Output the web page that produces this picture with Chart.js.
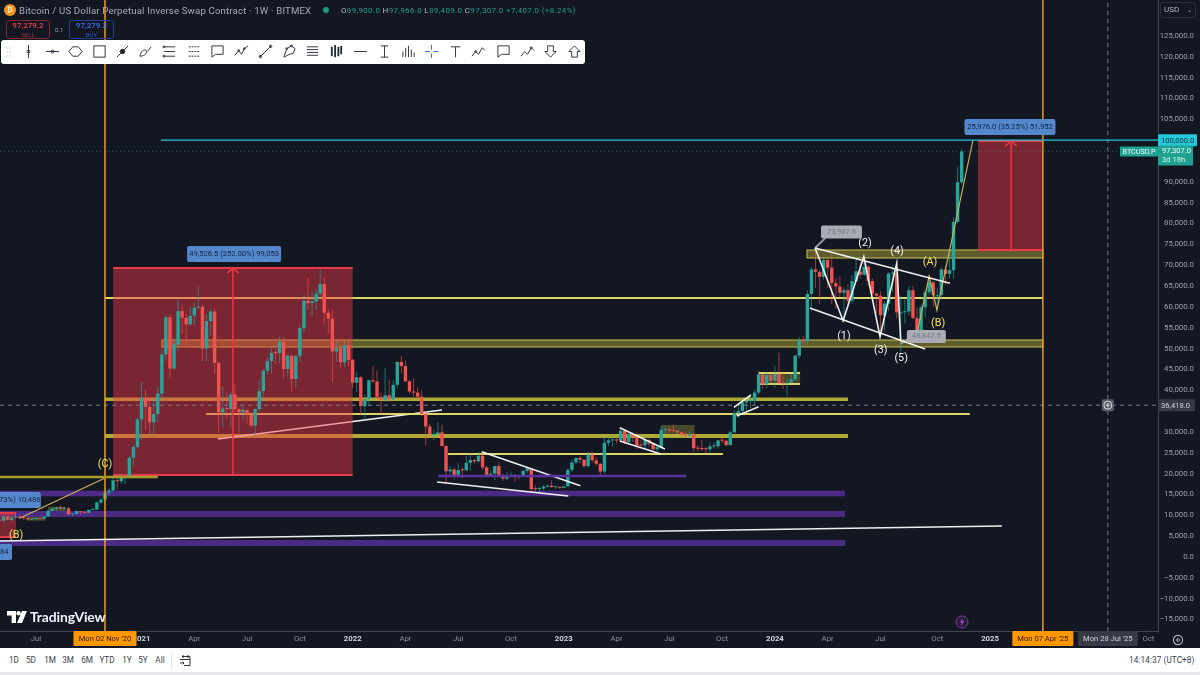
<!DOCTYPE html>
<html><head><meta charset="utf-8">
<script src="https://cdn.jsdelivr.net/npm/chart.js@4"></script>
<style>
html,body{margin:0;padding:0;width:1200px;height:675px;overflow:hidden;background:#131722;font-family:Roboto,sans-serif}
canvas{position:absolute;left:0;top:0}
.abs{position:absolute;white-space:nowrap;z-index:3}
</style></head><body>
<canvas id="c" width="1200" height="675"></canvas>
<div class="abs" style="left:4px;top:4px;width:12px;height:12px;border-radius:50%;background:#f7931a;color:#fff;font-size:8px;line-height:12px;text-align:center">₿</div>
<div class="abs" style="left:19px;top:4px;font-size:9.6px;line-height:13px;color:#a8abb5;letter-spacing:.17px">Bitcoin / US Dollar Perpetual Inverse Swap Contract · 1W · BITMEX</div>
<div class="abs" style="left:323px;top:7px;width:6px;height:6px;border-radius:50%;background:#1b9a86"></div>
<div class="abs" style="left:341px;top:5px;font-size:8px;line-height:12px;color:#1f9c8e;letter-spacing:.34px"><span style="color:#b2b5be">O</span>89,900.0 <span style="color:#b2b5be">H</span>97,966.0 <span style="color:#b2b5be">L</span>89,409.0 <span style="color:#b2b5be">C</span>97,307.0 +7,407.0 (+8.24%)</div>
<div class="abs" style="left:6px;top:20px;width:42px;height:17px;border:1px solid #7d2a35;border-radius:3px;text-align:center;color:#ef3f50;font-size:8px;line-height:9px;font-weight:500">97,279.2<br><span style="font-size:6px;color:#8f2c38">SELL</span></div>
<div class="abs" style="left:55px;top:26px;font-size:6px;color:#9a9da6">0.1</div>
<div class="abs" style="left:69px;top:20px;width:43px;height:17px;border:1px solid #23408f;border-radius:3px;text-align:center;color:#3f6ff0;font-size:8px;line-height:9px;font-weight:500">97,279.3<br><span style="font-size:6px;color:#2c4ea5">BUY</span></div>
<div id="toolbar" class="abs" style="left:1px;top:39.5px;width:584px;height:24px;background:#fff;border-radius:3px"></div>
<div class="abs" style="left:1160px;top:2px;width:36px;height:16px;border:1px solid #2a2e39;border-radius:3px;box-sizing:border-box;color:#b2b5be;font-size:8px;line-height:14px;padding-left:3px">USD<span style="position:absolute;right:3px;top:0;font-size:6px">⌄</span></div>
<svg class="abs" style="left:7px;top:610px" width="20" height="14" viewBox="0 0 20 14" fill="#fff"><path d="M0 1h9v12H4.600V5.400H0z"/><circle cx="11.600" cy="3.200" r="2.200"/><path d="M15 1h5l-5 12h-5z"/></svg>
<div class="abs" style="left:30px;top:608.5px;color:#f0f3fa;font-size:13.9px;line-height:16px;font-weight:700;font-family:Lato,sans-serif;letter-spacing:-.1px">TradingView</div>
<svg class="abs" style="left:955px;top:615px" width="14" height="14" viewBox="0 0 14 14"><circle cx="7" cy="7" r="6" fill="#2a1b3a" stroke="#7a3d9a" stroke-width="1"/><path d="M8 3 5 7.600h2L6 11l3.200-4.800H7.200z" fill="#a85ac8"/></svg>
<svg class="abs" style="left:1171px;top:633px" width="14" height="14" viewBox="0 0 14 14"><circle cx="7" cy="7" r="4.600" fill="none" stroke="#b2b5be" stroke-width="1.100"/><circle cx="7" cy="7" r="1.400" fill="none" stroke="#b2b5be"/></svg>
<div class="abs" style="left:0;top:648px;width:1200px;height:27px;background:#fff"></div>
<div class="abs" style="left:0;top:672px;width:1200px;height:3px;background:#e6e8ee"></div>
<div id="ranges" class="abs" style="left:0;top:654px;height:12px;width:170px;font-size:8.2px;line-height:12px;color:#3b3f4a"></div>
<div class="abs" style="left:171px;top:653px;width:1px;height:15px;background:#e0e3eb"></div>
<svg class="abs" style="left:179px;top:654px" width="13" height="13" viewBox="0 0 13 13" fill="none" stroke="#333" stroke-width="1"><path d="M3 2.500h8v9H5M1 5.500h10M4 1v3M9 1v3M1 9h4M3.500 7.500 5 9l-1.500 1.500"/></svg>
<div class="abs" style="left:1129px;top:654px;font-size:8.2px;line-height:12px;color:#3b3f4a;letter-spacing:.1px">14:14:37 (UTC+8)</div>

<script>
// ---- chart data: weekly candles, week 0 = Mon 02 Nov 2020, first candle = week -26 ----
const firstWeek = -26;
const opens = [
8900,8720,9680,8900,9450,9670,9320,9300,9000,9070,9300,9160,9700,11050,11560,11870,11650,11700,10250,10320,11000,10720,10620,11300,11360,13050,
13750,15480,15970,18400,18180,19000,19150,23800,26400,33000,38200,36000,32300,34300,39200,48600,57500,45200,51000,59000,57400,55800,57900,59800,60000,50000,
56600,58900,46600,34700,35600,35500,39000,35500,34700,35300,34200,31500,35500,39800,44700,47000,49000,48900,51700,45100,48300,42700,48200,54900,61500,60900,
61300,63200,65500,58600,57200,49300,50100,46700,50800,47300,41800,43100,36200,37900,42400,42100,38400,37700,38800,37800,41300,46800,45800,42150,39700,39450,
38450,34300,31300,29450,29450,29900,26600,20550,21000,19300,20850,20800,22600,23300,22950,24300,21500,19550,19990,21800,19400,18800,19300,19400,19250,19570,
20620,21300,16300,16280,16420,16880,17100,16750,16840,16600,16950,20900,22700,23750,23350,21800,24600,23200,22350,20500,27400,27970,28170,27950,30300,27590,
29500,28900,26780,26750,28070,27200,25850,26340,30500,30600,30300,30250,29900,29300,29050,29400,26100,26000,25900,25850,26550,26570,27970,27900,26850,29900,
34500,35000,37100,37400,37450,39450,43800,41400,43700,42300,43900,41700,41600,41800,42600,48300,52100,51700,63100,69000,68400,67200,71300,69400,65700,64900,
63400,64000,61500,66200,68500,67700,69600,66200,63200,62700,58000,60800,68000,68100,58700,58700,58900,64000,57300,54000,59900,63500,65900,62800,62800,69000,67900,68800,80400,89900];
const highs = [
10050,9950,9850,9740,10400,9990,9620,9780,9370,9470,9350,9750,11450,12050,12100,12450,11800,12050,10580,11180,11000,10950,11450,11720,13350,14100,
15980,16490,18970,19470,19900,19420,24300,26900,33400,41900,40100,37800,38000,40900,49700,58300,58300,52600,61700,60500,58400,60000,61200,64900,60500,58400,
59500,59600,46700,40800,39500,39500,41300,35700,36600,35400,34700,35500,42600,45000,48100,50500,49900,52900,52800,48800,48300,48500,55700,62900,67000,63700,
64200,69000,67100,59400,59200,51900,50600,51900,52000,47500,44500,43500,38900,42500,45800,44700,39700,45400,42600,42400,46900,48200,47200,42400,42900,40700,
40000,35000,32000,30500,32400,31700,26900,21900,21500,22500,21600,24200,24700,23500,25200,25200,21900,20800,21800,22800,20000,20400,20500,19900,19700,21000,
21500,21500,17200,16800,17300,17400,18400,17000,16900,17000,21300,23400,23800,24200,23400,25300,25300,23900,22600,28800,28900,29200,28800,31000,30500,30000,
29900,29800,28200,28400,28400,27400,26800,31400,31400,31400,31800,30400,29990,30000,30200,29600,26800,28100,26400,27500,27500,28100,28600,28000,30200,35200,
36000,38000,37900,38400,40200,44700,43900,44300,43800,45900,49000,43600,42800,43900,48500,52800,53000,64000,69500,73700,68900,71500,71300,72800,66900,67300,
64800,65500,67700,71900,70600,71900,70000,66900,63300,63800,61400,68300,70000,70000,62700,61800,65000,65000,59800,60600,64100,66500,66100,64500,69500,70000,73600,81500,93500,97966];
const lows = [
8200,8200,8800,8640,9250,9100,8900,8830,8900,9050,9000,9030,9650,10950,11150,11350,11100,9900,9850,10250,10150,10380,10530,11200,11350,12750,
13200,14850,15800,16200,17600,17600,19000,21900,26000,28000,30400,28900,29300,32300,37400,47000,43000,44900,49300,53300,50400,55500,55500,59500,47000,47000,
53000,43900,30000,31100,33400,31000,34800,28800,32700,32100,31000,29300,34900,37300,43800,43900,46300,46500,42800,43300,39600,40750,46900,53900,59500,57600,
59400,62200,55700,53500,41900,46800,45500,45600,45700,40600,39600,34000,32900,36300,41700,38000,34300,37200,37200,37600,40500,44200,41900,39200,38500,37600,
33700,26700,28700,28000,29300,26600,17600,19600,18600,19000,18900,20700,20700,22400,22700,20800,19500,19500,18500,19300,18200,18500,19100,18200,18700,19200,
20100,15600,15800,15450,16000,16700,16600,16300,16300,16500,16900,20400,22300,22500,21400,21400,22700,21900,19500,20000,26600,26500,27200,27900,27100,26900,
27600,25900,26500,25900,26500,25400,24800,26250,29500,29700,29950,29500,28900,28650,28700,25200,25400,25400,24900,24900,26000,26000,27200,26550,26800,29800,
33400,34500,34700,35600,36700,39000,40200,40500,41400,40700,41500,40300,38500,41700,42300,47700,50500,50900,59000,64600,60700,66500,64500,60700,59600,62400,
56500,60100,60800,66200,66700,67500,65100,63000,58500,53500,54300,59000,63500,57200,49000,56000,57800,57100,52600,52500,57500,62700,60000,58900,62000,65300,66800,66800,80000,89409];
const closes = [
8720,9680,8900,9450,9670,9320,9300,9000,9070,9300,9160,9700,11050,11560,11870,11650,11700,10250,10320,11000,10720,10620,11300,11360,13050,13750,
15480,15970,18400,18180,19000,19150,23800,26400,33000,38200,36000,32300,34300,39200,48600,57500,45200,51000,59000,57400,55800,57900,59800,60000,50000,56600,
58900,46600,34700,35600,35500,39000,35500,34700,35300,34200,31500,35500,39800,44700,47000,49000,48900,51700,45100,48300,42700,48200,54900,61500,60900,61300,
63200,65500,58600,57200,49300,50100,46700,50800,47300,41800,43100,36200,37900,42400,42100,38400,37700,38800,37800,41300,46800,45800,42150,39700,39450,38450,
34300,31300,29450,29450,29900,26600,20550,21000,19300,20850,20800,22600,23300,22950,24300,21500,19550,19990,21800,19400,18800,19300,19400,19250,19570,20620,
21300,16300,16280,16420,16880,17100,16750,16840,16600,16950,20900,22700,23750,23350,21800,24600,23200,22350,20500,27400,27970,28170,27950,30300,27590,29500,
28900,26780,26750,28070,27200,25850,26340,30500,30600,30300,30250,29900,29300,29050,29400,26100,26000,25900,25850,26550,26570,27970,27900,26850,29900,34500,
35000,37100,37400,37450,39450,43800,41400,43700,42300,43900,41700,41600,41800,42600,48300,52100,51700,63100,69000,68400,67200,71300,69400,65700,64900,63400,
64000,61500,66200,68500,67700,69600,66200,63200,62700,58000,60800,68000,68100,58700,58700,58900,64000,57300,54000,59900,63500,65900,62800,62800,69000,67900,68800,80400,89900,97307];
if (new Set([opens.length,highs.length,lows.length,closes.length]).size!==1) throw new Error('ohlc length '+[opens.length,highs.length,lows.length,closes.length]);

// axes
const yTickValues = [125000,120000,115000,110000,105000,90000,85000,80000,75000,70000,65000,60000,55000,50000,45000,40000,30000,25000,20000,15000,10000,5000,0,-5000,-10000,-15000];
const xTickWeeks  = [-17,9,22,35,48,61,74,87,100,113,126,139,152,165,178,191,205,218,257];
const xTickLabels = ['Jul','2021','Apr','Jul','Oct','2022','Apr','Jul','Oct','2023','Apr','Jul','Oct','2024','Apr','Jul','Oct','2025','Oct'];
const yearLabels  = ['2021','2022','2023','2024','2025'];
const xMin=-25.86, xMax=259.36, yMin=-17753, yMax=133624;

// drawings, in [week, price]
const redBoxes = [[2,61,69331,19672],[215,231,99798,73649],[-30,-21.9,10556,4798]];
const purpleZones = [[-30,182.3,15905,14562],[-30,182.3,11035,9596],[-30,182.3,4078,2639]];
const yellowZones = [[172.9,231,73650,71730],[14,231,52058,50379]];
const heavyZones = [[0,183,38264,37424],[0,183,29508,28548]];
const softBoxes = [[137,145.2,31667,28788],[161,171.2,44142,41503],[-14,-9.85,11995,11035],[-19.2,-14.8,9596,8708]];
const cyanLine = [[13.8,100000],[260,100000]];
const yellowLines = [[[0,62134],[231,62134]],[[24.9,34306],[213,34306]],[[84.5,24710],[152.2,24710]],[[161,44142],[171.2,44142]],[[161,41503],[171.2,41503]]];
const purpleLine = [[82,19432],[143.1,19432]];
const oliveLine = [[-30,19192],[13,19192]];
const trendUnderBox = [[27.8,28308],[83,35265]];
const whiteLines = [
 [[-25.86,3838],[220.9,7437]],
 [[92.8,25262],[117.1,17105]],[[81.8,17993],[114.1,14634]],
 [[126.8,31019],[137.9,25909]],[[126.8,27828],[136.9,24710]],
 [[154.9,35913],[159.1,38864]],[[155.6,33826],[161,36057]],
 [[174.9,74129],[208.1,65660]],[[173.6,59735],[202,49899]],
 [[174.9,74129],[181.8,56689],[186.9,72042],[190.9,52850],[195,70459],[196,51651]]];
const goldWaves = [[[200.2,54457],[203,67412],[204.9,59255],[213.8,100038]],[[-20.9,9356],[0,18952]]];
const greyLeaders = [[[174.9,74129],[177.4,76500]],[[196,51200],[198.7,52700]]];
const redArrows = [[[31.5,19672],[31.5,69331]],[[30.1,68100],[31.5,69331],[32.9,68100]],[[223.2,73649],[223.2,99798]],[[221.8,98600],[223.2,99798],[224.6,98600]]];
const orangeLines = [[[0,yMin],[0,yMax]],[[231,yMin],[231,yMax]]];
const crosshairLines = [[[xMin,36418],[xMax,36418]],[[247,yMin],[247,yMax]]];
const lastPriceLine = [[xMin,97307],[xMax,97307]];
const waveLabels = [['(1)',182,53018,'#f0f0f0'],['(2)',187.2,75329,'#f0f0f0'],['(3)',191.1,49659,'#f0f0f0'],['(4)',195.1,73409,'#f0f0f0'],['(5)',196.1,47740,'#f0f0f0'],
 ['(A)',203.2,70771,'#f2e05a'],['(B)',205.2,56137,'#f2e05a'],['(C)',214,103637,'#f2e05a'],['(C)',0,22311,'#f2e05a'],['(B)',-21.9,5278,'#f2e05a']];
const blueLabels = [['49,526.5 (252.00%) 99,053',31.8,72690,94],['25,976.0 (35.25%) 51,952',222.9,103157,91],['3,904.0 (42.73%) 10,486',-25.9,13674,82],['1,023.5 (12.00%) 7,684',-33.25,1200,84]];
const greyLabels = [['73,987.8',181.4,77968,41],['48,847.5',202.3,52899,39]];
const xBadges = [[0,"Mon 02 Nov '20",'#ff9800','#2b1b00',63],[231,"Mon 07 Apr '25",'#ff9800','#2b1b00',61],[247,"Mon 28 Jul '25",'#363a45','#d1d4dc',60]];
const rangeNames = ['1D','5D','1M','3M','6M','YTD','1Y','5Y','All'];
const rangeCentres = [14,31,50,68,87,107,127,143,160];

// ---- page chrome ----
const ranges=document.getElementById('ranges');
rangeNames.forEach((t,i)=>{const s=document.createElement('span');s.textContent=t;s.style.cssText='position:absolute;top:0;transform:translateX(-50%);left:'+rangeCentres[i]+'px';ranges.appendChild(s)});
const icons=[
'<path d="M8 1v14"/><circle cx="8" cy="8" r="1.600"/>','<path d="M1 8h14"/><circle cx="8" cy="8" r="1.600"/>','<path d="M5 3h6l4 5-4 5H5L1 8z"/>','<rect x="2" y="2" width="12" height="12"/>',
'<path d="M2 14 14 2"/><circle cx="8" cy="8" r="2.400" fill="#222"/>','<path d="M2 13c1-5 4-8 7-6 1 2-1 6-7 6M10 8l4-5"/>','<path d="M2 3h12M2 8h12M2 13h12"/><circle cx="2" cy="3" r="1"/><circle cx="2" cy="13" r="1"/>','<path d="M3 3h11M3 13h11M3 8h11" stroke-dasharray="2 1"/>',
'<path d="M2 2h12v9H6l-4 3z"/>','<path d="M1 12l4-5 3 4 3-6 4-3"/><circle cx="5" cy="7" r="1"/><circle cx="11" cy="5" r="1"/>','<path d="M2 14 14 2"/><circle cx="2.500" cy="13.500" r="1.300"/><circle cx="13.500" cy="2.500" r="1.300"/>','<path d="M2 14 5 5l5-3 4 3-2 5-4 1z"/><circle cx="5" cy="5" r="1"/><circle cx="10" cy="2" r="1"/>',
'<path d="M2 3h12M2 6h12M2 9h12M2 12h12"/>','<path d="M3 3v10M6.500 1v13M10 3v10M13 2v9" stroke-width="2"/>','<path d="M1 8h14"/>','<path d="M4 2h8M8 2v12M4 14h8"/>',
'<path d="M2 14V8M5 14V4M8 14V2M11 14V6M14 14V9"/>','<path d="M8 1v5M8 10v5M1 8h5M10 8h5" stroke="#2962ff"/>','<path d="M3 3h10M8 3v11"/>','<path d="M1 13l4-5 3 3 4-7 3 3"/><circle cx="5" cy="8" r="1"/>',
'<path d="M2 2h12v9H6l-4 3z"/>','<path d="M1 13l4-5 3 3 4-7 3 3"/><circle cx="12" cy="4" r="1"/>','<path d="M5 2h6v6h3l-6 6-6-6h3z"/>','<path d="M5 14h6V8h3L8 2 2 8h3z"/>'];
const iconCentres=[28,52,75,99,122,145,169,193,217,241,265,289,312,336,360,384,408,431,455,478,503,527,550,574];
let tb='<svg width="6" height="10" style="position:absolute;left:5px;top:7px" fill="#c8cad0"><circle cx="1" cy="1" r=".8"/><circle cx="4" cy="1" r=".8"/><circle cx="1" cy="5" r=".8"/><circle cx="4" cy="5" r=".8"/><circle cx="1" cy="9" r=".8"/><circle cx="4" cy="9" r=".8"/></svg>';
icons.forEach((p,i)=>{tb+='<svg viewBox="0 0 16 16" width="15" height="15" fill="none" stroke="#2a2e39" stroke-width="1" style="position:absolute;top:4.500px;left:'+(iconCentres[i]-8.5)+'px">'+p+'</svg>'});
document.getElementById('toolbar').innerHTML=tb;

// ---- chart ----
const UP='#26a69a', DOWN='#ef5350';
const weeks=closes.map((_,i)=>firstWeek+i);
const candleColor=closes.map((c,i)=>c>=opens[i]?UP:DOWN);
const wickColor=closes.map((c,i)=>c>=opens[i]?'rgba(38,166,154,.62)':'rgba(239,83,80,.62)');
const line=(pts,color,width,dash,order)=>({type:'line',data:pts.map(p=>({x:p[0],y:p[1]})),borderColor:color,borderWidth:width,borderDash:dash||[],pointRadius:0,tension:0,fill:false,order:order||1});
const datasets=[
 {type:'bar',data:weeks.map((w,i)=>({x:w,y:[opens[i],closes[i]]})),backgroundColor:candleColor,barThickness:3.4,grouped:false,minBarLength:1,inflateAmount:0,order:50},
 {type:'bar',data:weeks.map((w,i)=>({x:w,y:[lows[i],highs[i]]})),backgroundColor:wickColor,barThickness:1,grouped:false,inflateAmount:0,order:51},
 line(cyanLine,'#26c6da',1.3),
 ...yellowLines.map(l=>line(l,'rgba(232,222,110,.95)',1.8,null,60)),
 line(trendUnderBox,'rgba(255,255,255,.95)',1.6,null,60),
 line(purpleLine,'#5a32a0',2.4),line(oliveLine,'#a89c2e',2.4),
 ...whiteLines.map(l=>line(l,'rgba(255,255,255,.93)',1.6)),
 ...goldWaves.map(l=>line(l,'#c9b458',1.2)),
 ...greyLeaders.map(l=>line(l,'#9a9da5',2)),
 ...redArrows.map(l=>line(l,'#f23645',1.5)),
 ...orangeLines.map(l=>line(l,'#eb9a28',1.5)),
 ...crosshairLines.map(l=>line(l,'#787b86',1,[4,4])),
 line(lastPriceLine,'rgba(60,130,120,.55)',1,[1,3])
];
function rr(ctx,x,y,w,h,r,fill){ctx.beginPath();ctx.roundRect(x,y,w,h,r);ctx.fillStyle=fill;ctx.fill();}
function txt(ctx,t,x,y,color,font,align){ctx.fillStyle=color;ctx.font=font;ctx.textAlign=align||'center';ctx.textBaseline='middle';ctx.fillText(t,x,y);}
const BASE='Roboto,sans-serif';
const isYear=ctx=>ctx.tick&&yearLabels.includes(xTickLabels[xTickWeeks.indexOf(ctx.tick.value)]);
const drawings={id:'drawings',
 beforeDatasetsDraw(ch){const c=ch.ctx,X=ch.scales.x,Y=ch.scales.y;c.save();
  const rect=(b,f,st)=>{const x=X.getPixelForValue(b[0]),y=Y.getPixelForValue(b[2]),w=X.getPixelForValue(b[1])-x,h=Y.getPixelForValue(b[3])-y;c.fillStyle=f;c.fillRect(x,y,w,h);if(st){c.strokeStyle=st;c.lineWidth=1;c.strokeRect(x,y,w,h)}};
  purpleZones.forEach(b=>rect(b,'#4b2a84'));
  yellowZones.forEach(b=>rect(b,'rgba(200,190,60,.42)','#cfc352'));
  heavyZones.forEach(b=>rect(b,'rgba(205,195,60,.85)'));
  softBoxes.forEach(b=>rect(b,'rgba(200,190,60,.3)'));
  c.restore()},
 beforeDatasetDraw(ch,args){ // the shaded target boxes lie above the older lines, under the candles
  if(args.index!==1) return;
  const c=ch.ctx,X=ch.scales.x,Y=ch.scales.y;c.save();
  redBoxes.forEach(b=>{const x=X.getPixelForValue(b[0]),y=Y.getPixelForValue(b[2]),w=X.getPixelForValue(b[1])-x,h=Y.getPixelForValue(b[3])-y;c.fillStyle='rgba(242,54,69,.46)';c.fillRect(x,y,w,h);c.fillStyle='#e8394a';c.fillRect(x,y-1,w,2);c.fillRect(x,y+h-1,w,2)});
  c.restore()},
 afterDatasetsDraw(ch){const c=ch.ctx,X=ch.scales.x,Y=ch.scales.y;c.save();
  waveLabels.forEach(l=>txt(c,l[0],X.getPixelForValue(l[1]),Y.getPixelForValue(l[2]),l[3],'10.8px '+BASE));
  blueLabels.forEach(l=>{const x=X.getPixelForValue(l[1]),y=Y.getPixelForValue(l[2]);rr(c,x-l[3]/2,y-8,l[3],16,2,'#5487cc');txt(c,l[0],x,y,'#16233f','7.6px '+BASE)});
  greyLabels.forEach(l=>{const x=X.getPixelForValue(l[1]),y=Y.getPixelForValue(l[2]);rr(c,x-l[3]/2,y-6.500,l[3],13,2,'#a9acb4');txt(c,l[0],x,y,'#787b84','7.6px '+BASE)});
  c.restore()},
 afterDraw(ch){const c=ch.ctx,X=ch.scales.x,Y=ch.scales.y;c.save();
  xBadges.forEach(b=>{const x=X.getPixelForValue(b[0]);rr(c,x-b[4]/2,631,b[4],15,1,b[2]);txt(c,b[1],x,639,b[3],'7.6px '+BASE)});
  let y=Y.getPixelForValue(100000);rr(c,1158,y-6,39,12,1,'#26c6da');txt(c,'100,000.0',1161,y+.500,'#10303a','7.6px '+BASE,'left');
  y=Y.getPixelForValue(97307);rr(c,1158,y-6,35,20,1,'#1fa292');txt(c,'97,307.0',1162,y,'#eafff9','7.6px '+BASE,'left');txt(c,'3d 18h',1162,y+9,'#d5f5ee','7.6px '+BASE,'left');
  rr(c,1120,y-5,38,10,1,'#1fa292');txt(c,'BTCUSD.P',1139,y+.500,'#eafff9','7.2px '+BASE);
  y=Y.getPixelForValue(36418);rr(c,1158,y-6,37,12,1,'#363a45');txt(c,'36,418.0',1161,y+.500,'#d1d4dc','7.6px '+BASE,'left');
  const px=X.getPixelForValue(247);rr(c,px-6,y-6,12,12,2,'#5a5e68');c.strokeStyle='#e0e2e8';c.lineWidth=1;c.beginPath();c.arc(px,y,4,0,7);c.moveTo(px-2,y);c.lineTo(px+2,y);c.moveTo(px,y-2);c.lineTo(px,y+2);c.stroke();
  c.restore()}
};
new Chart(document.getElementById('c'),{
 type:'bar',data:{datasets},plugins:[drawings],
 options:{responsive:false,animation:false,devicePixelRatio:1,
  layout:{padding:{left:0,top:0,right:6,bottom:0},autoPadding:false},
  plugins:{legend:{display:false},tooltip:{enabled:false},title:{display:false}},
  scales:{
   x:{type:'linear',min:xMin,max:xMax,offset:false,grid:{display:false,drawTicks:false},border:{color:'#434651',width:1},
      afterBuildTicks(s){s.ticks=xTickWeeks.map(v=>({value:v}))},
      afterFit(s){s.height=44;s.paddingLeft=0;s.paddingRight=0},
      ticks:{autoSkip:false,maxRotation:0,padding:3,callback(v){const i=xTickWeeks.indexOf(v);return i<0?'':xTickLabels[i]},
       color(ctx){return isYear(ctx)?'#d1d4dc':'#8b8e98'},
       font(ctx){return {family:'Roboto',size:7.8,weight:isYear(ctx)?'700':'400'}}}},
   y:{type:'linear',position:'right',min:yMin,max:yMax,grid:{display:false,drawTicks:false},border:{color:'#434651',width:1},
      afterBuildTicks(s){s.ticks=yTickValues.map(v=>({value:v}))},
      afterFit(s){s.width=36;s.paddingTop=0;s.paddingBottom=0},
      ticks:{autoSkip:false,padding:0,crossAlign:'far',color:'#a0a3ad',font:{family:'Roboto',size:7.8},
       callback(v){return (v<0?'\u2212':'')+Math.abs(v).toLocaleString('en-US',{minimumFractionDigits:1,maximumFractionDigits:1})}}}
  }}
});
</script>
</body></html>
